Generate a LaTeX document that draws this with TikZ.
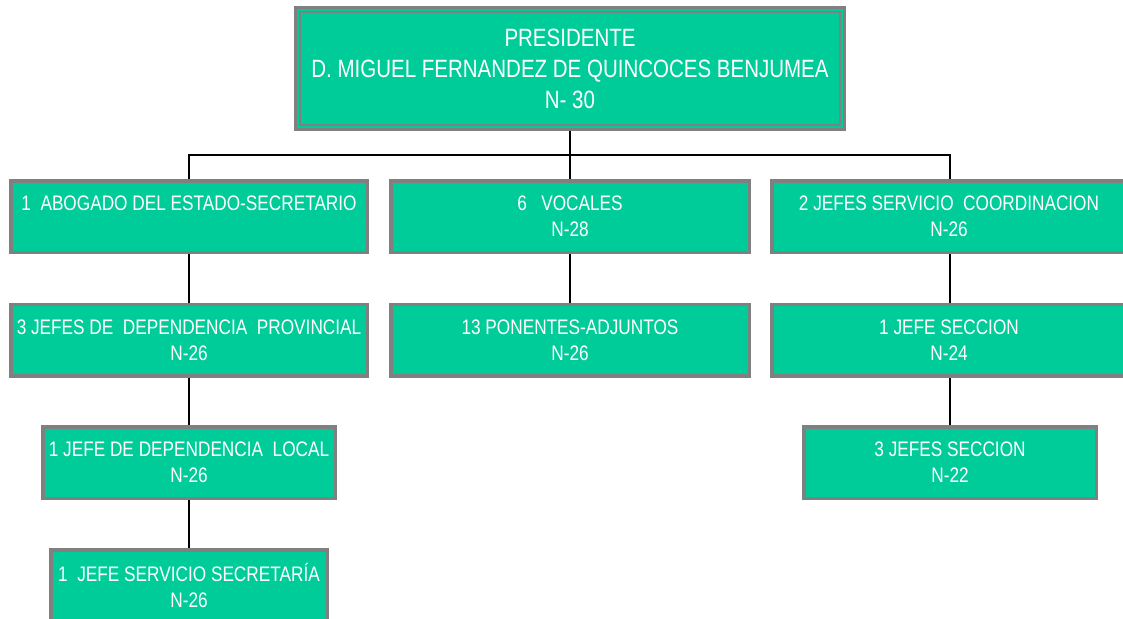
\documentclass[tikz,border=0pt]{standalone}
\usepackage{fontspec}
\setmainfont[FakeStretch=0.82]{Liberation Sans}
\usetikzlibrary{backgrounds}
\definecolor{boxgreen}{RGB}{0,204,153}
\definecolor{boxgray}{RGB}{128,128,128}
\tikzset{
  orgbox/.style={draw=boxgray, line width=3.5pt, fill=boxgreen, text=white,
    inner sep=0pt, align=center, minimum height=71.5pt,
    font=\fontsize{21pt}{26pt}\selectfont},
  topbox/.style={draw=boxgray, line width=3pt, fill=boxgreen, text=white,
    inner sep=0pt, align=center, minimum width=549pt, minimum height=122pt,
    font=\fontsize{25pt}{31pt}\selectfont},
  link/.style={draw=black, line width=1.5pt}
}
\begin{document}
\begin{tikzpicture}[x=1pt,y=-1pt]
\useasboundingbox (0,0) rectangle (1123,618);
\clip (0,0) rectangle (1123,618);
% top box
\node[topbox] (top) at (570,68.5) {PRESIDENTE\\D. MIGUEL FERNANDEZ DE QUINCOCES BENJUMEA\\N- 30};
\draw[boxgray, line width=1.3pt] ([shift={(6,6)}]top.north west) rectangle ([shift={(-6,-6)}]top.south east);
% level 1
\node[orgbox, minimum width=356.5pt] (abog) at (189,216.5) {1\ \ ABOGADO DEL ESTADO-SECRETARIO\\\phantom{N-26}};
\node[orgbox, minimum width=358.5pt] (vocal) at (570,216.5) {6\ \ \ VOCALES\\N-28};
\node[orgbox, minimum width=354.5pt] (coord) at (949,216.5) {2 JEFES SERVICIO\ \ COORDINACION\\N-26};
% level 2
\node[orgbox, minimum width=356.5pt] (prov) at (189,340) {3 JEFES DE\ \ DEPENDENCIA\ \ PROVINCIAL\\N-26};
\node[orgbox, minimum width=358.5pt] (pon) at (570,340) {13 PONENTES-ADJUNTOS\\N-26};
\node[orgbox, minimum width=354.5pt] (sec1) at (949,340) {1 JEFE SECCION\\N-24};
% level 3
\node[orgbox, minimum width=292.5pt] (local) at (189,462.5) {1 JEFE DE DEPENDENCIA\ \ LOCAL\\N-26};
\node[orgbox, minimum width=292.5pt] (sec3) at (950,462.5) {3 JEFES SECCION\\N-22};
% level 4
\node[orgbox, minimum width=276.5pt] (secr) at (189,585.5) {1\ \ JEFE SERVICIO SECRETARÍA\\N-26};
% connectors
\begin{pgfonlayer}{background}
\fill[white] (0,0) rectangle (1123,618);
\coordinate (bus) at (570,155);
\path[link] (top.south) -- (vocal.north);
\path[link] (abog.north) |- (bus) -| ([xshift=1pt]coord.north);
\path[link] (abog.south) -- (prov.north);
\path[link] (prov.south) -- (local.north);
\path[link] (local.south) -- (secr.north);
\path[link] (vocal.south) -- (pon.north);
\path[link] ([xshift=1pt]coord.south) -- ([xshift=1pt]sec1.north);
\path[link] ([xshift=1pt]sec1.south) -- (sec3.north);
\end{pgfonlayer}
\end{tikzpicture}
\end{document}
